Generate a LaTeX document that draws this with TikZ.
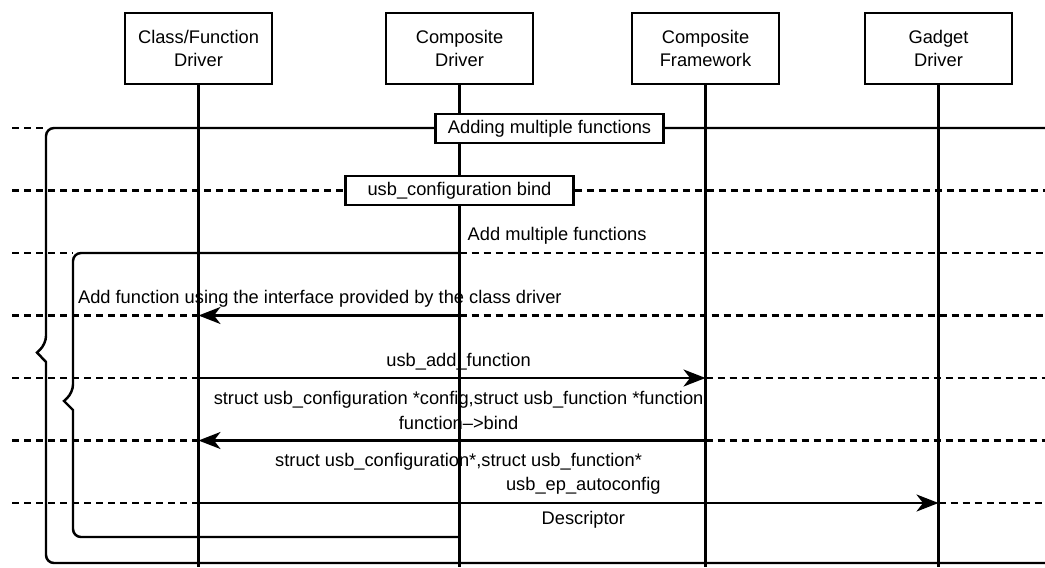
\documentclass[tikz,border=0pt]{standalone}
\usepackage{fontspec}
\setmainfont{Liberation Sans}
\usetikzlibrary{positioning,arrows.meta,calc}
\tikzset{
  blok/.style={rectangle,draw,line width=1.6pt,outer sep=0pt,minimum width=29.4mm,minimum height=14.2mm,inner sep=1pt,align=center},
  stitok/.style={rectangle,draw,fill=white,line width=1.6pt,minimum width=45.6mm,minimum height=5.8mm,inner sep=1pt},
  ziv/.style={line width=1.4pt},
  delic/.style={line width=1.4pt,dash pattern=on 1.4mm off 1mm},
  ramec/.style={line width=1.4pt},
  sprava/.style={-{Stealth[length=4.4mm,width=3.4mm,inset=1.3mm]},line width=1.4pt},
  popis/.style={inner sep=1.4mm},
}
\begin{document}
\begin{tikzpicture}[font=\fontsize{10.4}{13.1}\selectfont]
  \useasboundingbox (0,0) rectangle (209mm,-113.4mm);
  \coordinate (vl) at (2.4mm,0);
  \coordinate (vp) at (209mm,0);
  \coordinate (dno) at (0,-113.4mm);
  \coordinate (r1) at (0,-25.6mm);
  \coordinate (r2) at (0,-38.1mm);
  \coordinate (r3) at (0,-50.6mm);
  \coordinate (r4) at (0,-63.1mm);
  \coordinate (r5) at (0,-75.6mm);
  \coordinate (r6) at (0,-88.1mm);
  \coordinate (r7) at (0,-100.6mm);
  % hlavicky
  \node[blok,anchor=north west] (cfd) at (25mm,-2.6mm) {Class/Function\\Driver};
  \node[blok] (cd) [right=22.8mm of cfd] {Composite\\Driver};
  \node[blok] (cf) [right=19.8mm of cd] {Composite\\Framework};
  \node[blok] (gd) [right=17.2mm of cf] {Gadget\\Driver};
  % ciary zivota
  \draw[ziv] (cfd.south) -- (cfd.south |- dno);
  \draw[ziv] (cd.south) -- (cd.south |- dno);
  \draw[ziv] (cf.south) -- (cf.south |- dno);
  \draw[ziv] (gd.south) -- (gd.south |- dno);
  % ramce
  \draw[ramec,rounded corners=1.6mm] (vp |- r1) -- (9.2mm,-25.6mm) -- (9.2mm,-68.8mm)
    [sharp corners] -- (7.4mm,-70.5mm) -- (9.2mm,-72.4mm)
    [rounded corners=1.6mm] -- (9.2mm,-112.6mm) -- (209mm,-112.6mm);
  \draw[ramec,rounded corners=1.6mm] (cd.south |- r3) node[popis,above right] {Add multiple functions}
    -- (14.6mm,-50.6mm) -- (14.6mm,-78.5mm)
    [sharp corners] -- (12.8mm,-80.2mm) -- (14.6mm,-82mm)
    [rounded corners=1.6mm] -- (14.6mm,-107.4mm) -- (cd.south |- 0,-107.4mm);
  \draw[delic] (vl |- r1) -- (9.2mm,-25.6mm);
  \node[stitok] (amf) at (109.9mm,-25.7mm) {Adding multiple functions};
  \node[stitok] (ucb) at (cd.south |- r2) {usb\_configuration bind};
  \draw[delic] (vl |- r2) -- (ucb.west);
  \draw[delic] (ucb.east) -- (vp |- r2);
  \draw[delic] (vl |- r3) -- (14.6mm,-50.6mm);
  \draw[delic] (cd.south |- r3) -- (vp |- r3);
  % spravy
  \draw[delic] (vl |- r4) -- (cfd.south |- r4);
  \draw[delic] (cd.south |- r4) -- (vp |- r4);
  \draw[sprava] (cd.south |- r4) -- (cfd.south |- r4)
    node[popis,pos=0.535,above] {Add function using the interface provided by the class driver};
  \draw[delic] (vl |- r5) -- (cfd.south |- r5);
  \draw[delic] (cf.south |- r5) -- (vp |- r5);
  \draw[sprava] (cfd.south |- r5) -- (cf.south |- r5)
    node[popis,pos=0.513,above] {usb\_add\_function}
    node[popis,pos=0.513,below,yshift=-1mm] {struct usb\_configuration *config,struct usb\_function *function};
  \draw[delic] (vl |- r6) -- (cfd.south |- r6);
  \draw[delic] (cf.south |- r6) -- (vp |- r6);
  \draw[sprava] (cf.south |- r6) -- (cfd.south |- r6)
    node[popis,pos=0.487,above,yshift=0.6mm] {function–>bind}
    node[popis,pos=0.487,below,yshift=-1mm] {struct usb\_configuration*,struct usb\_function*};
  \draw[delic] (vl |- r7) -- (cfd.south |- r7);
  \draw[delic] (gd.south |- r7) -- (vp |- r7);
  \draw[sprava] (cfd.south |- r7) -- (gd.south |- r7)
    node[popis,pos=0.52,above] {usb\_ep\_autoconfig}
    node[popis,pos=0.52,below] {Descriptor};
\end{tikzpicture}
\end{document}
